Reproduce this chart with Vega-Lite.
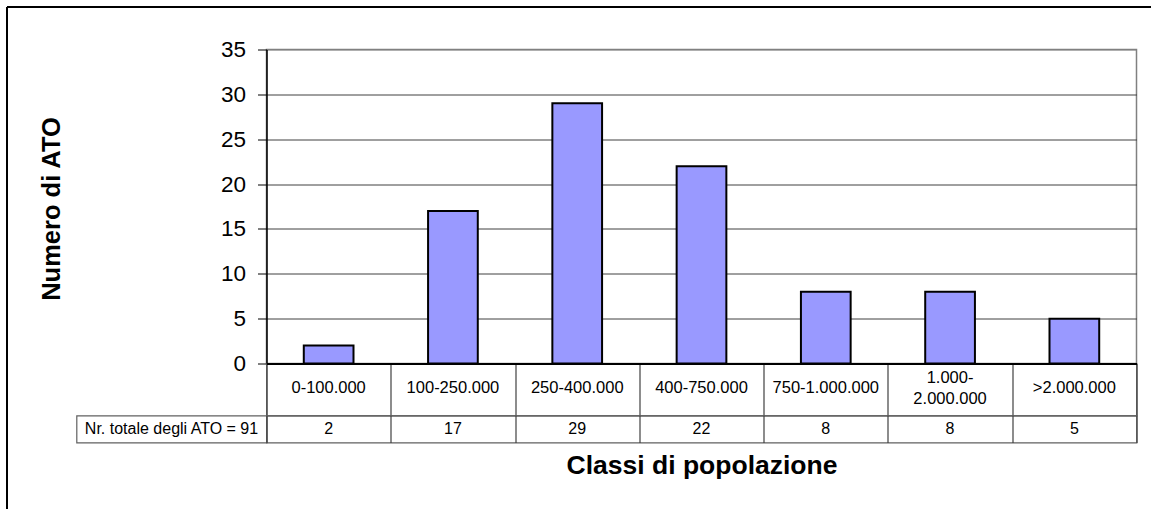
{
  "$schema": "https://vega.github.io/schema/vega-lite/v6.json",
  "padding": {"left": 6.5, "top": 6.5, "right": 0, "bottom": 0},
  "background": "white",
  "columns": 3,
  "spacing": 0,
  "bounds": "flush",
  "align": "each",
  "datasets": {
    "ato": [
      {"classe": "0-100.000", "numero": 2},
      {"classe": "100-250.000", "numero": 17},
      {"classe": "250-400.000", "numero": 29},
      {"classe": "400-750.000", "numero": 22},
      {"classe": "750-1.000.000", "numero": 8},
      {"classe": "1.000-\n2.000.000", "numero": 8},
      {"classe": ">2.000.000", "numero": 5}
    ],
    "frame": [{"v": 0}],
    "totale": [{"etichetta": "Nr. totale degli ATO = 91"}]
  },
  "concat": [
    {
      "width": 70, "height": 43,
      "data": {"name": "frame"},
      "mark": {"type": "point", "opacity": 0},
      "encoding": {
        "x": {"field": "v", "type": "quantitative", "axis": {"orient": "top", "domain": true, "domainColor": "black", "domainWidth": 2, "ticks": false, "labels": false, "grid": false, "title": null}},
        "y": {"field": "v", "type": "quantitative", "axis": {"orient": "left", "domain": true, "domainColor": "black", "domainWidth": 2, "ticks": false, "labels": false, "grid": false, "title": null}}
      }
    },
    {
      "width": 190, "height": 43,
      "data": {"name": "frame"},
      "mark": {"type": "point", "opacity": 0},
      "encoding": {
        "x": {"field": "v", "type": "quantitative", "axis": {"orient": "top", "domain": true, "domainColor": "black", "domainWidth": 2, "ticks": false, "labels": false, "grid": false, "title": null}}
      }
    },
    {
      "width": 884, "height": 43,
      "data": {"name": "frame"},
      "mark": {"type": "point", "opacity": 0},
      "encoding": {
        "x": {"field": "v", "type": "quantitative", "axis": {"orient": "top", "domain": true, "domainColor": "black", "domainWidth": 2, "ticks": false, "labels": false, "grid": false, "title": null}}
      }
    },
    {
      "width": 70, "height": 314,
      "data": {"name": "frame"},
      "mark": {"type": "point", "opacity": 0},
      "encoding": {
        "y": {"field": "v", "type": "quantitative", "axis": {"orient": "left", "domain": true, "domainColor": "black", "domainWidth": 2, "ticks": false, "labels": false, "grid": false, "title": null}}
      }
    },
    {
      "width": 190, "height": 314,
      "data": {"values": []},
      "mark": "point"
    },
    {
      "width": 870, "height": 314,
      "data": {"name": "ato"},
      "view": {"stroke": "#808080", "strokeWidth": 1.5},
      "mark": {"type": "bar", "fill": "#9999FF", "stroke": "black", "strokeWidth": 2},
      "encoding": {
        "x": {"field": "classe", "type": "nominal", "sort": null, "scale": {"paddingInner": 0.6, "paddingOuter": 0.3}, "axis": null},
        "y": {
          "field": "numero", "type": "quantitative",
          "scale": {"domain": [0, 35], "nice": false},
          "axis": {
            "values": [0, 5, 10, 15, 20, 25, 30, 35],
            "grid": true,
            "gridColor": {"condition": {"test": "datum.value == 35", "value": "#808080"}, "value": "#404040"},
            "gridWidth": 1,
            "domainColor": "black", "domainWidth": 1.5,
            "tickColor": "black", "tickWidth": 1, "tickSize": 9,
            "labelFont": "Liberation Sans", "labelFontSize": 22.5, "labelColor": "black", "labelPadding": 12,
            "title": "Numero di ATO",
            "titleFont": "Liberation Sans", "titleFontSize": 25.5, "titleFontWeight": "bold", "titleColor": "black",
            "titleX": -215, "titleY": 159, "titleBaseline": "middle", "titleAngle": -90
          }
        }
      }
    },
    {
      "width": 70, "height": 52,
      "data": {"name": "frame"},
      "mark": {"type": "point", "opacity": 0},
      "encoding": {
        "y": {"field": "v", "type": "quantitative", "axis": {"orient": "left", "domain": true, "domainColor": "black", "domainWidth": 2, "ticks": false, "labels": false, "grid": false, "title": null}}
      }
    },
    {
      "width": 190, "height": 52,
      "data": {"values": []},
      "mark": "point"
    },
    {
      "width": 870, "height": 52,
      "data": {"name": "ato"},
      "view": {"stroke": "#555555", "strokeWidth": 1.2},
      "layer": [
        {
          "mark": {"type": "text", "font": "Liberation Sans", "fontSize": 16.5, "color": "black", "dy": -2},
          "encoding": {
            "x": {
              "field": "classe", "type": "nominal", "sort": null,
              "scale": {"paddingInner": 0, "paddingOuter": 0},
              "axis": {"orient": "top", "domain": true, "domainColor": "black", "domainWidth": 2, "ticks": false, "labels": false, "grid": true, "gridColor": "#404040", "gridWidth": 1.2, "tickBand": "extent", "title": null}
            },
            "text": {"condition": {"test": "indexof(datum.classe, '\\n') >= 0", "value": ""}, "field": "classe", "type": "nominal"}
          }
        },
        {
          "transform": [{"filter": "indexof(datum.classe, '\\n') >= 0"}],
          "mark": {"type": "text", "font": "Liberation Sans", "fontSize": 16.5, "color": "black", "lineBreak": "\n", "lineHeight": 21, "dy": -12},
          "encoding": {
            "x": {"field": "classe", "type": "nominal", "sort": null},
            "text": {"field": "classe", "type": "nominal"}
          }
        }
      ]
    },
    {
      "width": 70, "height": 27,
      "data": {"name": "frame"},
      "mark": {"type": "point", "opacity": 0},
      "encoding": {
        "y": {"field": "v", "type": "quantitative", "axis": {"orient": "left", "domain": true, "domainColor": "black", "domainWidth": 2, "ticks": false, "labels": false, "grid": false, "title": null}}
      }
    },
    {
      "width": 190, "height": 27,
      "data": {"name": "totale"},
      "view": {"stroke": "#606060", "strokeWidth": 1.2},
      "mark": {"type": "text", "font": "Liberation Sans", "fontSize": 16, "color": "black"},
      "encoding": {
        "text": {"field": "etichetta", "type": "nominal"}
      }
    },
    {
      "width": 870, "height": 27,
      "data": {"name": "ato"},
      "view": {"stroke": "#606060", "strokeWidth": 1.2},
      "mark": {"type": "text", "font": "Liberation Sans", "fontSize": 16, "color": "black"},
      "encoding": {
        "x": {
          "field": "classe", "type": "nominal", "sort": null,
          "scale": {"paddingInner": 0, "paddingOuter": 0},
          "axis": {"orient": "bottom", "domain": false, "ticks": false, "labels": false, "grid": true, "gridColor": "#404040", "gridWidth": 1.2, "tickBand": "extent",
            "title": "Classi di popolazione", "titleFont": "Liberation Sans", "titleFontSize": 26.5, "titleFontWeight": "bold", "titleColor": "black", "titlePadding": 10}
        },
        "text": {"field": "numero", "type": "quantitative"}
      }
    },
    {
      "width": 70, "height": 66,
      "data": {"name": "frame"},
      "mark": {"type": "point", "opacity": 0},
      "encoding": {
        "y": {"field": "v", "type": "quantitative", "axis": {"orient": "left", "domain": true, "domainColor": "black", "domainWidth": 2, "ticks": false, "labels": false, "grid": false, "title": null}}
      }
    }
  ],
  "config": {
    "font": "Liberation Sans",
    "view": {"stroke": null}
  }
}
